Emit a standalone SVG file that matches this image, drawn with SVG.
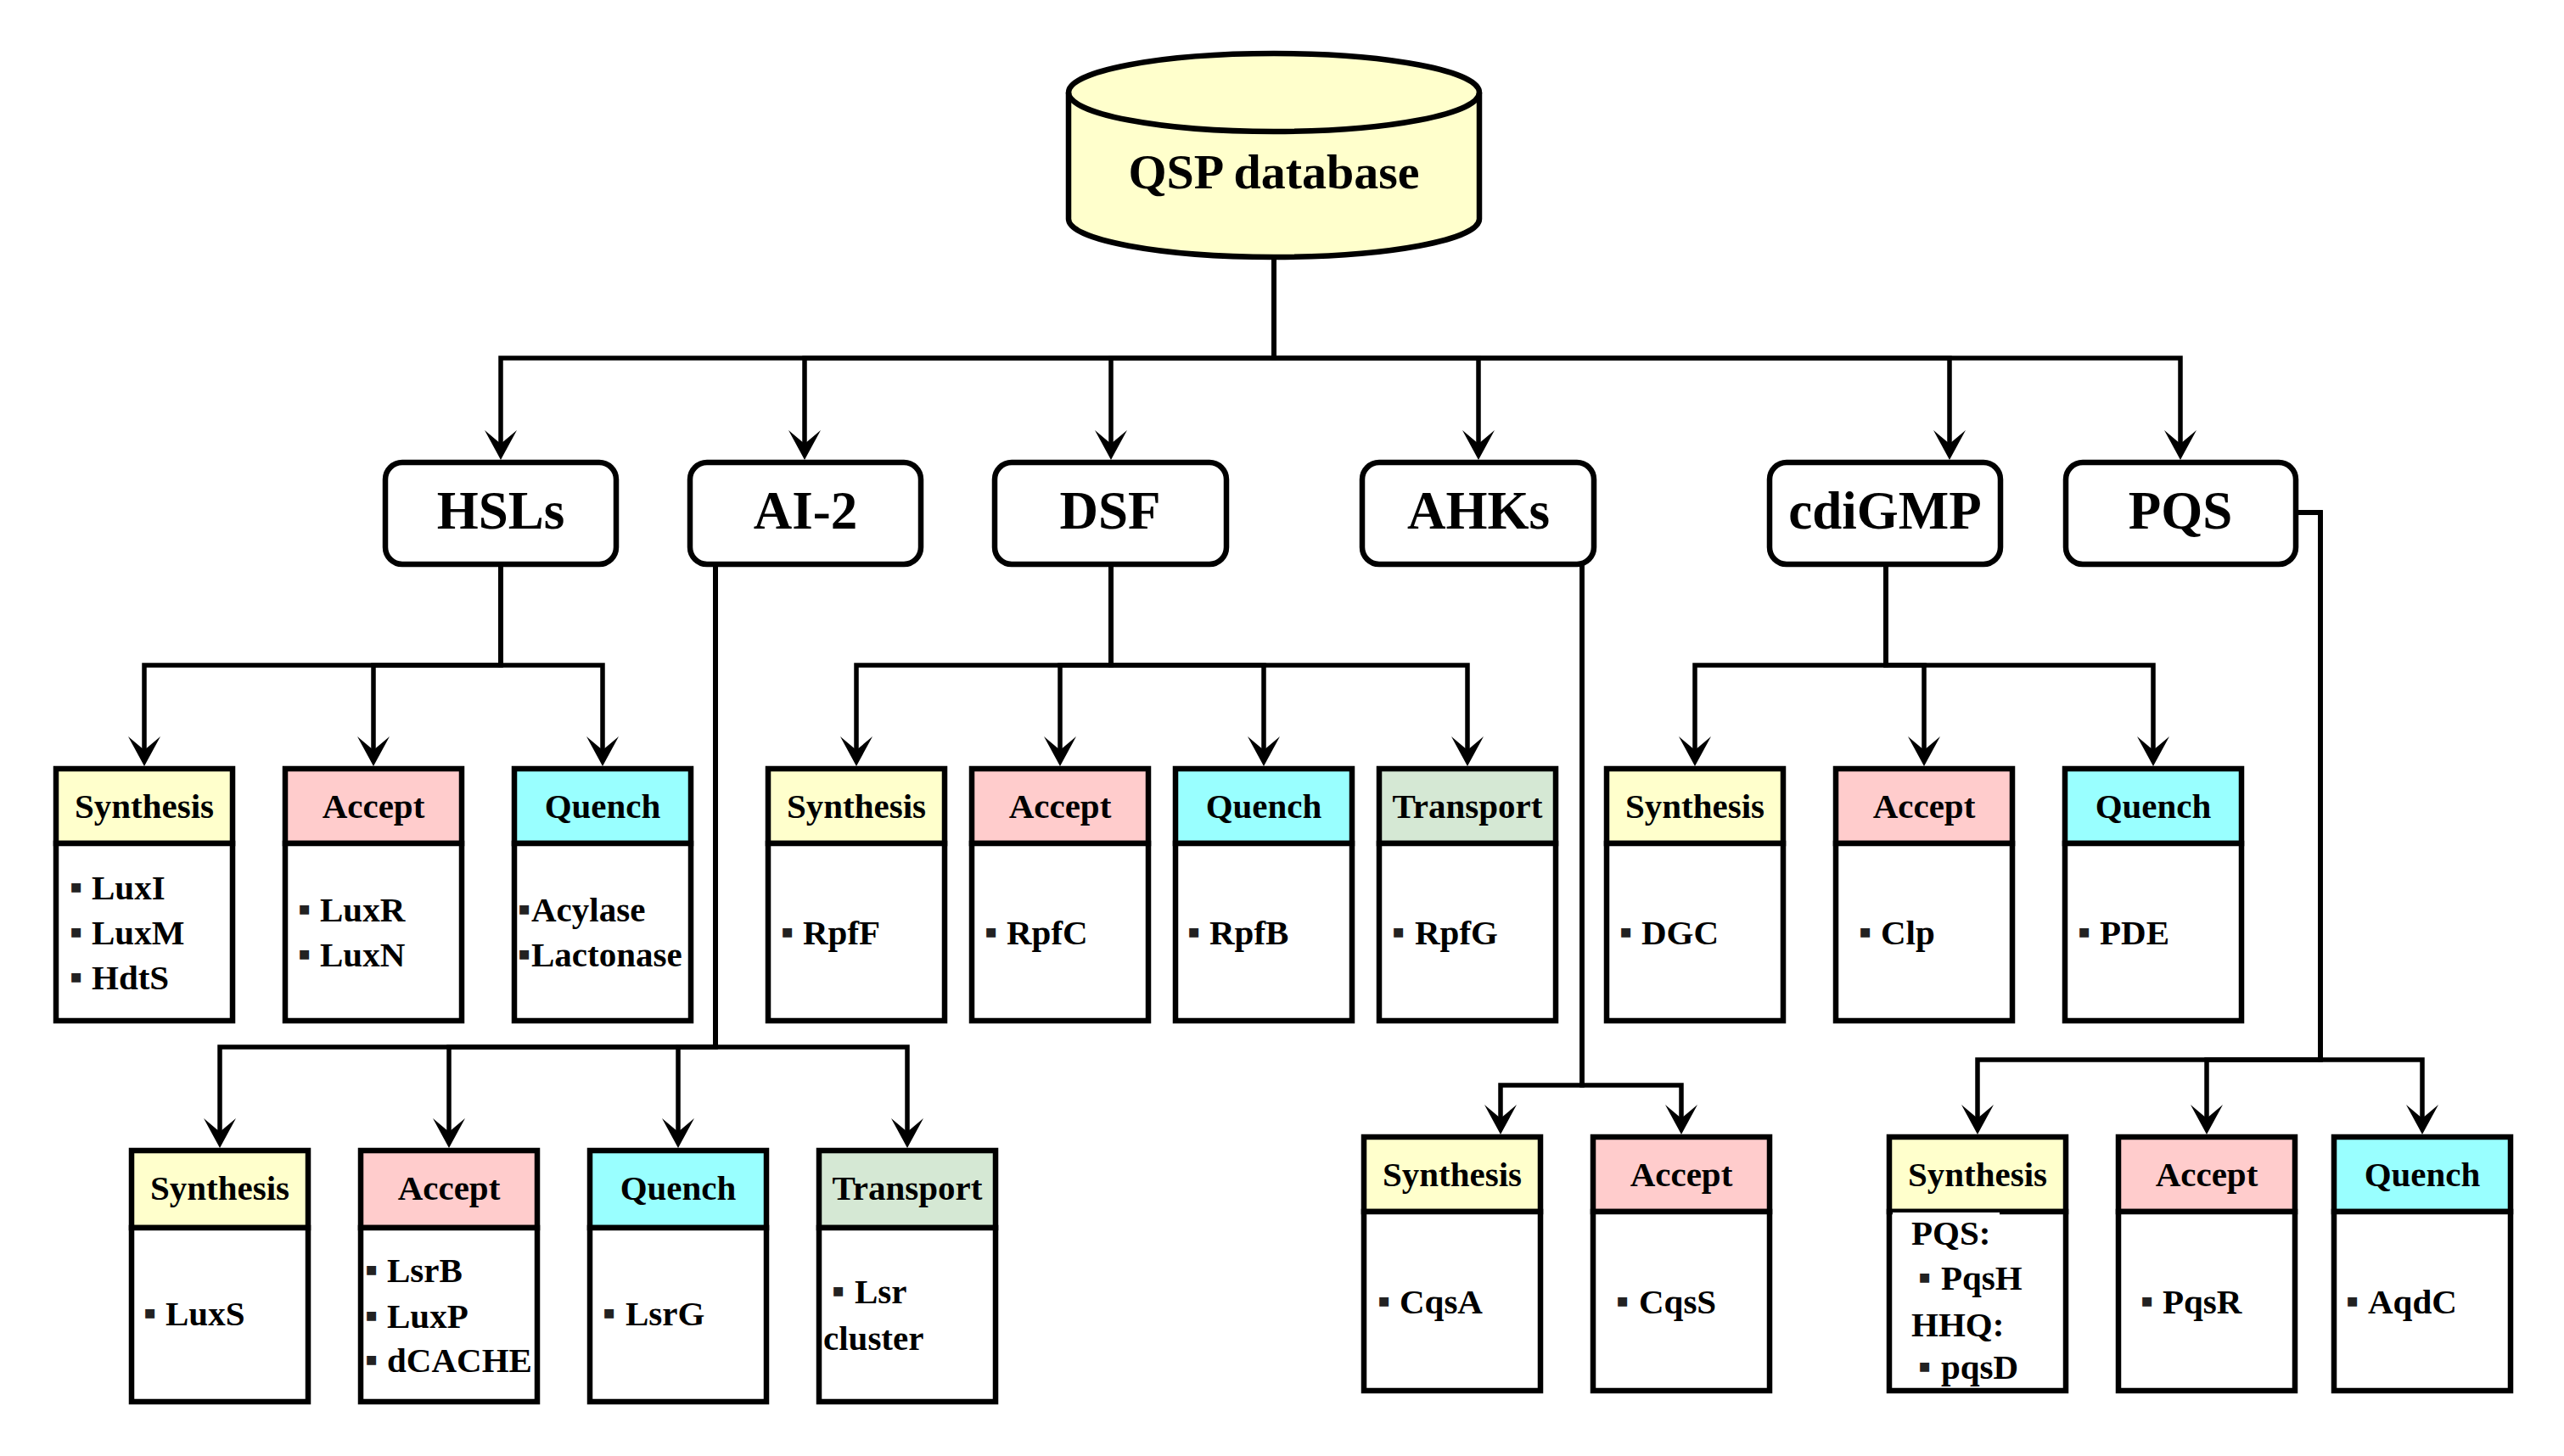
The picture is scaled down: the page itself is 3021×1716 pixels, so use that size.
<svg xmlns="http://www.w3.org/2000/svg" width="3021" height="1716" viewBox="0 0 3021 1716">
<style>
  text { font-family: "Liberation Serif", "Times New Roman", serif; font-weight: bold; fill: #000; }
  .conn path { fill: none; stroke: #000; stroke-width: 5.5; stroke-linejoin: miter; marker-end: url(#arr); }
  .l1 rect { fill: #fff; stroke: #000; stroke-width: 6.5; }
  .l1 text { font-size: 63px; text-anchor: middle; }
  .hdr { stroke: #000; stroke-width: 6.5; }
  .body { fill: #fff; stroke: #000; stroke-width: 6.5; }
  .syn { fill: #FFFFCC; }
  .acc { fill: #FFCCCC; }
  .que { fill: #99FFFF; }
  .tra { fill: #D5E8D4; }
  .ht { font-size: 41px; text-anchor: middle; }
  .it { font-size: 41px; }
  .bu { font-size: 44px; fill: #222; }
</style>
<defs>
  <marker id="arr" markerUnits="userSpaceOnUse" viewBox="-20 -22 42 44" markerWidth="42" markerHeight="44" refX="0" refY="0" orient="auto">
    <path d="M19,0 L-16,-19 L0,0 L-16,19 Z" fill="#000"/>
  </marker>
</defs>
<rect width="3021" height="1716" fill="#fff"/>

<g id="connectors" class="conn">
  <path d="M1501,303 V422 H590 V523"/>
  <path d="M1501,303 V422 H948 V523"/>
  <path d="M1501,303 V422 H1309 V523"/>
  <path d="M1501,303 V422 H1742 V523"/>
  <path d="M1501,303 V422 H2297 V523"/>
  <path d="M1501,303 V422 H2569 V523"/>

  <path d="M590,665 V784 H170 V884"/>
  <path d="M590,665 V784 H440 V884"/>
  <path d="M590,665 V784 H710 V884"/>

  <path d="M843,665 V1234 H259 V1334"/>
  <path d="M843,665 V1234 H529 V1334"/>
  <path d="M843,665 V1234 H799 V1334"/>
  <path d="M843,665 V1234 H1069 V1334"/>

  <path d="M1309,665 V784 H1009 V884"/>
  <path d="M1309,665 V784 H1249 V884"/>
  <path d="M1309,665 V784 H1489 V884"/>
  <path d="M1309,665 V784 H1729 V884"/>

  <path d="M1864,665 V1279 H1768 V1318"/>
  <path d="M1864,665 V1279 H1981 V1318"/>

  <path d="M2222,665 V784 H1997 V884"/>
  <path d="M2222,665 V784 H2267 V884"/>
  <path d="M2222,665 V784 H2537 V884"/>

  <path d="M2705,604 H2734 V1249 H2330 V1318"/>
  <path d="M2705,604 H2734 V1249 H2600 V1318"/>
  <path d="M2705,604 H2734 V1249 H2854 V1318"/>
</g>

<g id="qsp-database">
  <path d="M1259,109 L1259,258 A242,45 0 0 0 1743,258 L1743,109 A242,46 0 0 0 1259,109 Z" fill="#FFFFCC" stroke="#000" stroke-width="6.5"/>
  <path d="M1259,109 A242,46 0 0 0 1743,109" fill="none" stroke="#000" stroke-width="6.5"/>
  <text x="1501" y="222" font-size="58" text-anchor="middle">QSP database</text>
</g>

<g id="hsls" class="l1"><rect x="454" y="545" width="272" height="120" rx="20"/><text x="590" y="623">HSLs</text></g>
<g id="ai2" class="l1"><rect x="813" y="545" width="272" height="120" rx="20"/><text x="949" y="623">AI-2</text></g>
<g id="dsf" class="l1"><rect x="1172" y="545" width="273" height="120" rx="20"/><text x="1308" y="623">DSF</text></g>
<g id="ahks" class="l1"><rect x="1605" y="545" width="273" height="120" rx="20"/><text x="1742" y="623">AHKs</text></g>
<g id="cdigmp" class="l1"><rect x="2085" y="545" width="272" height="120" rx="20"/><text x="2221" y="623">cdiGMP</text></g>
<g id="pqs" class="l1"><rect x="2434" y="545" width="271" height="120" rx="20"/><text x="2569" y="623">PQS</text></g>

<!-- HSLs children -->
<g id="hsls-synthesis">
  <rect class="hdr syn" x="66" y="906" width="208" height="88"/>
  <rect class="body" x="66" y="994" width="208" height="209"/>
  <text class="ht" x="170" y="964">Synthesis</text>
  <text class="it"><tspan class="bu" x="82" y="1060">▪</tspan><tspan x="108" y="1060">LuxI</tspan></text>
  <text class="it"><tspan class="bu" x="82" y="1113">▪</tspan><tspan x="108" y="1113">LuxM</tspan></text>
  <text class="it"><tspan class="bu" x="82" y="1166">▪</tspan><tspan x="108" y="1166">HdtS</tspan></text>
</g>
<g id="hsls-accept">
  <rect class="hdr acc" x="336" y="906" width="208" height="88"/>
  <rect class="body" x="336" y="994" width="208" height="209"/>
  <text class="ht" x="440" y="964">Accept</text>
  <text class="it"><tspan class="bu" x="351" y="1086">▪</tspan><tspan x="377" y="1086">LuxR</tspan></text>
  <text class="it"><tspan class="bu" x="351" y="1139">▪</tspan><tspan x="377" y="1139">LuxN</tspan></text>
</g>
<g id="hsls-quench">
  <rect class="hdr que" x="606" y="906" width="208" height="88"/>
  <rect class="body" x="606" y="994" width="208" height="209"/>
  <text class="ht" x="710" y="964">Quench</text>
  <text class="it"><tspan class="bu" x="610" y="1086">▪</tspan><tspan x="626" y="1086">Acylase</tspan></text>
  <text class="it"><tspan class="bu" x="610" y="1139">▪</tspan><tspan x="626" y="1139">Lactonase</tspan></text>
</g>

<!-- DSF children -->
<g id="dsf-synthesis">
  <rect class="hdr syn" x="905" y="906" width="208" height="88"/>
  <rect class="body" x="905" y="994" width="208" height="209"/>
  <text class="ht" x="1009" y="964">Synthesis</text>
  <text class="it"><tspan class="bu" x="920" y="1113">▪</tspan><tspan x="946" y="1113">RpfF</tspan></text>
</g>
<g id="dsf-accept">
  <rect class="hdr acc" x="1145" y="906" width="208" height="88"/>
  <rect class="body" x="1145" y="994" width="208" height="209"/>
  <text class="ht" x="1249" y="964">Accept</text>
  <text class="it"><tspan class="bu" x="1160" y="1113">▪</tspan><tspan x="1186" y="1113">RpfC</tspan></text>
</g>
<g id="dsf-quench">
  <rect class="hdr que" x="1385" y="906" width="208" height="88"/>
  <rect class="body" x="1385" y="994" width="208" height="209"/>
  <text class="ht" x="1489" y="964">Quench</text>
  <text class="it"><tspan class="bu" x="1399" y="1113">▪</tspan><tspan x="1425" y="1113">RpfB</tspan></text>
</g>
<g id="dsf-transport">
  <rect class="hdr tra" x="1625" y="906" width="208" height="88"/>
  <rect class="body" x="1625" y="994" width="208" height="209"/>
  <text class="ht" x="1729" y="964">Transport</text>
  <text class="it"><tspan class="bu" x="1640" y="1113">▪</tspan><tspan x="1667" y="1113">RpfG</tspan></text>
</g>

<!-- cdiGMP children -->
<g id="cdigmp-synthesis">
  <rect class="hdr syn" x="1893" y="906" width="208" height="88"/>
  <rect class="body" x="1893" y="994" width="208" height="209"/>
  <text class="ht" x="1997" y="964">Synthesis</text>
  <text class="it"><tspan class="bu" x="1908" y="1113">▪</tspan><tspan x="1934" y="1113">DGC</tspan></text>
</g>
<g id="cdigmp-accept">
  <rect class="hdr acc" x="2163" y="906" width="208" height="88"/>
  <rect class="body" x="2163" y="994" width="208" height="209"/>
  <text class="ht" x="2267" y="964">Accept</text>
  <text class="it"><tspan class="bu" x="2190" y="1113">▪</tspan><tspan x="2216" y="1113">Clp</tspan></text>
</g>
<g id="cdigmp-quench">
  <rect class="hdr que" x="2433" y="906" width="208" height="88"/>
  <rect class="body" x="2433" y="994" width="208" height="209"/>
  <text class="ht" x="2537" y="964">Quench</text>
  <text class="it"><tspan class="bu" x="2448" y="1113">▪</tspan><tspan x="2474" y="1113">PDE</tspan></text>
</g>

<!-- AI-2 children -->
<g id="ai2-synthesis">
  <rect class="hdr syn" x="155" y="1356" width="208" height="91"/>
  <rect class="body" x="155" y="1447" width="208" height="205"/>
  <text class="ht" x="259" y="1414">Synthesis</text>
  <text class="it"><tspan class="bu" x="169" y="1562">▪</tspan><tspan x="195" y="1562">LuxS</tspan></text>
</g>
<g id="ai2-accept">
  <rect class="hdr acc" x="425" y="1356" width="208" height="91"/>
  <rect class="body" x="425" y="1447" width="208" height="205"/>
  <text class="ht" x="529" y="1414">Accept</text>
  <text class="it"><tspan class="bu" x="430" y="1511">▪</tspan><tspan x="456" y="1511">LsrB</tspan></text>
  <text class="it"><tspan class="bu" x="430" y="1565">▪</tspan><tspan x="456" y="1565">LuxP</tspan></text>
  <text class="it"><tspan class="bu" x="430" y="1617">▪</tspan><tspan x="456" y="1617">dCACHE</tspan></text>
</g>
<g id="ai2-quench">
  <rect class="hdr que" x="695" y="1356" width="208" height="91"/>
  <rect class="body" x="695" y="1447" width="208" height="205"/>
  <text class="ht" x="799" y="1414">Quench</text>
  <text class="it"><tspan class="bu" x="710" y="1562">▪</tspan><tspan x="737" y="1562">LsrG</tspan></text>
</g>
<g id="ai2-transport">
  <rect class="hdr tra" x="965" y="1356" width="208" height="91"/>
  <rect class="body" x="965" y="1447" width="208" height="205"/>
  <text class="ht" x="1069" y="1414">Transport</text>
  <text class="it"><tspan class="bu" x="980" y="1536">▪</tspan><tspan x="1007" y="1536">Lsr</tspan></text>
  <text class="it" x="970" y="1591">cluster</text>
</g>

<!-- AHKs children -->
<g id="ahks-synthesis">
  <rect class="hdr syn" x="1607" y="1340" width="208" height="88"/>
  <rect class="body" x="1607" y="1428" width="208" height="211"/>
  <text class="ht" x="1711" y="1398">Synthesis</text>
  <text class="it"><tspan class="bu" x="1623" y="1548">▪</tspan><tspan x="1649" y="1548">CqsA</tspan></text>
</g>
<g id="ahks-accept">
  <rect class="hdr acc" x="1877" y="1340" width="208" height="88"/>
  <rect class="body" x="1877" y="1428" width="208" height="211"/>
  <text class="ht" x="1981" y="1398">Accept</text>
  <text class="it"><tspan class="bu" x="1904" y="1548">▪</tspan><tspan x="1931" y="1548">CqsS</tspan></text>
</g>

<!-- PQS children -->
<g id="pqs-synthesis">
  <rect class="hdr syn" x="2226" y="1340" width="208" height="88"/>
  <rect class="body" x="2226" y="1428" width="208" height="211"/>
  <rect x="2230" y="1429" width="126" height="4" fill="#fff"/>
  <text class="ht" x="2330" y="1398">Synthesis</text>
  <text class="it" x="2252" y="1467" fill="#222">PQS:</text>
  <text class="it"><tspan class="bu" x="2260" y="1520">▪</tspan><tspan x="2287" y="1520">PqsH</tspan></text>
  <text class="it" x="2252" y="1575">HHQ:</text>
  <text class="it"><tspan class="bu" x="2260" y="1625">▪</tspan><tspan x="2287" y="1625">pqsD</tspan></text>
</g>
<g id="pqs-accept">
  <rect class="hdr acc" x="2496" y="1340" width="208" height="88"/>
  <rect class="body" x="2496" y="1428" width="208" height="211"/>
  <text class="ht" x="2600" y="1398">Accept</text>
  <text class="it"><tspan class="bu" x="2522" y="1548">▪</tspan><tspan x="2548" y="1548">PqsR</tspan></text>
</g>
<g id="pqs-quench">
  <rect class="hdr que" x="2750" y="1340" width="208" height="88"/>
  <rect class="body" x="2750" y="1428" width="208" height="211"/>
  <text class="ht" x="2854" y="1398">Quench</text>
  <text class="it"><tspan class="bu" x="2764" y="1548">▪</tspan><tspan x="2790" y="1548">AqdC</tspan></text>
</g>
</svg>
